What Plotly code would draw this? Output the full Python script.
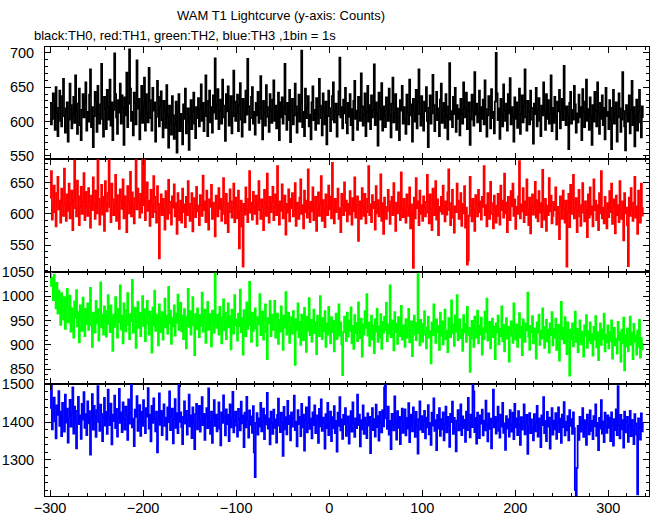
import plotly.graph_objects as go
from plotly.subplots import make_subplots

# Time axis start (s) and 1 s bins
t_start = -300

# TH0 (black) counts per 1 s bin
th0 = [
627, 596, 604, 641, 633, 588, 650, 612, 579, 620, 645, 601, 593, 637, 662, 608, 584, 619, 628, 571,
603, 655, 624, 590, 611, 636, 598, 667, 615, 582, 626, 648, 595, 573, 617, 640, 606, 629, 657, 587,
614, 600, 639, 676, 592, 621, 563, 608, 643, 630, 585, 652, 611, 597, 625, 684, 604, 578, 636, 618,
589, 646, 622, 603, 661, 594, 628, 573, 617, 699, 640, 606, 582, 631, 613, 655, 597, 638, 620, 566,
635, 609, 671, 592, 626, 705, 648, 601, 614, 580, 642, 627, 596, 689, 619, 633, 574, 610, 652, 598,
623, 664, 587, 640, 612, 599, 678, 631, 605, 587, 649, 616, 628, 571, 607, 659, 636, 593, 621, 644,
602, 577, 630, 615, 591, 653, 608, 562, 623, 598, 581, 637, 609, 575, 596, 629, 555, 613, 640, 586,
611, 594, 567, 625, 604, 648, 583, 600, 619, 559, 607, 631, 589, 614, 642, 597, 576, 621, 605, 634,
593, 618, 654, 601, 627, 586, 612, 667, 608, 579, 630, 645, 599, 621, 584, 638, 613, 692, 604, 625,
647, 589, 616, 632, 597, 661, 623, 606, 572, 640, 615, 651, 594, 620, 637, 583, 608, 674, 629, 601,
612, 639, 586, 624, 656, 603, 578, 633, 617, 599, 645, 610, 691, 622, 588, 605, 636, 650, 597, 614,
581, 627, 609, 643, 598, 619, 666, 604, 574, 630, 612, 594, 653, 621, 607, 585, 640, 616, 598, 632,
660, 601, 623, 590, 615, 642, 573, 628, 606, 635, 597, 619, 684, 611, 588, 627, 602, 646, 570, 617,
633, 596, 609, 655, 622, 584, 613, 639, 600, 626, 703, 592, 614, 579, 648, 605, 620, 637, 593, 610,
574, 628, 651, 602, 617, 588, 634, 611, 597, 662, 623, 605, 580, 641, 614, 596, 629, 567, 608, 645,
619, 586, 603, 637, 657, 599, 615, 626, 578, 610, 644, 693, 606, 621, 590, 632, 612, 649, 598, 583,
627, 607, 640, 595, 618, 573, 630, 659, 604, 616, 588, 636, 613, 601, 670, 622, 594, 609, 641, 579,
614, 652, 600, 624, 589, 638, 606, 617, 683, 595, 628, 611, 565, 642, 619, 603, 656, 587, 622, 608,
592, 635, 618, 601, 648, 610, 577, 626, 664, 599, 613, 640, 588, 619, 605, 573, 631, 616, 652, 597,
621, 604, 582, 639, 613, 596, 661, 625, 609, 571, 633, 617, 600, 646, 590, 628, 676, 611, 594, 637,
606, 587, 629, 615, 650, 601, 563, 620, 638, 597, 612, 668, 624, 586, 609, 643, 602, 619, 579, 632,
655, 598, 616, 627, 591, 640, 608, 574, 622, 685, 603, 615, 592, 636, 611, 649, 585, 624, 604, 618,
580, 633, 611, 597, 657, 620, 606, 642, 589, 615, 628, 566, 603, 639, 617, 594, 672, 610, 626, 599,
613, 645, 586, 621, 604, 632, 596, 660, 618, 578, 609, 637, 622, 590, 647, 605, 614, 583, 629, 700,
641, 602, 619, 575, 633, 610, 593, 654, 616, 601, 626, 587, 640, 612, 663, 596, 621, 607, 571, 635,
604, 628, 591, 617, 648, 582, 612, 638, 599, 621, 676, 606, 587, 630, 614, 596, 645, 620, 603, 568,
626, 611, 649, 593, 618, 634, 601, 579, 623, 609, 657, 615, 588, 640, 604, 631, 597, 612, 667, 586,
620, 598, 636, 607, 574, 629, 615, 646, 590, 611, 633, 602, 681, 619, 595, 622, 608, 560, 627, 643,
597, 617, 603, 652, 625, 584, 612, 599, 639, 606, 621, 573, 647, 614, 592, 629, 661, 601, 618, 588,
635, 609, 566, 624, 600, 643, 616, 593, 657, 611, 582, 627, 604, 638, 595, 620, 574, 649, 608, 614,
589, 631, 602, 560, 620, 646, 597, 612, 628, 571, 606, 641, 619, 585, 603, 672, 615, 593, 558, 624,
611, 600, 638, 583, 617, 659, 595, 621, 564, 608, 632, 587, 614, 646, 599, 577, 622, 605,
]

# TH1 (red)
th1 = [
626, 668, 591, 612, 645, 603, 580, 633, 659, 607, 621, 586, 640, 614, 597, 672, 618, 589, 631, 605,
648, 593, 616, 637, 574, 622, 685, 609, 596, 653, 628, 582, 611, 643, 600, 619, 665, 590, 635, 612,
597, 641, 620, 578, 629, 606, 658, 615, 592, 637, 601, 690, 624, 583, 610, 646, 599, 627, 573, 652,
617, 604, 633, 694, 611, 587, 648, 623, 598, 614, 662, 589, 630, 605, 576, 639, 621, 608, 655, 593,
628, 612, 571, 644, 619, 601, 667, 596, 634, 610, 585, 625, 693, 607, 640, 618, 594, 632, 602, 689,
614, 697, 590, 626, 650, 605, 621, 581, 638, 612, 595, 660, 627, 603, 586, 644, 616, 529, 609, 631,
598, 624, 607, 575, 636, 613, 592, 654, 619, 601, 583, 628, 610, 647, 596, 617, 568, 633, 606, 590,
621, 586, 640, 603, 615, 579, 627, 598, 652, 610, 589, 616, 633, 572, 608, 625, 595, 643, 604, 613,
582, 630, 614, 597, 661, 606, 620, 587, 637, 601, 575, 623, 611, 646, 592, 618, 604, 564, 629, 609,
596, 641, 608, 624, 589, 613, 657, 600, 585, 632, 617, 571, 603, 639, 620, 594, 610, 648, 587, 626,
612, 593, 637, 545, 604, 621, 580, 516, 616, 599, 642, 608, 587, 624, 668, 602, 618, 591, 635, 610,
600, 629, 584, 615, 652, 606, 592, 623, 611, 574, 638, 617, 597, 664, 609, 586, 627, 603, 619, 643,
590, 612, 631, 598, 676, 614, 583, 620, 605, 647, 593, 611, 629, 567, 616, 602, 639, 588, 624, 609,
633, 596, 605, 649, 581, 618, 609, 592, 626, 655, 600, 614, 577, 637, 603, 621, 594, 671, 610, 587,
619, 604, 642, 590, 613, 627, 573, 608, 634, 597, 615, 660, 589, 622, 606, 579, 631, 612, 598, 645,
607, 628, 593, 681, 611, 585, 624, 603, 619, 640, 592, 609, 571, 632, 614, 598, 650, 605, 621, 588,
616, 599, 636, 610, 583, 625, 604, 658, 594, 613, 628, 557, 607, 620, 592, 641, 611, 597, 632, 585,
603, 624, 676, 598, 615, 587, 630, 609, 619, 575, 644, 601, 622, 596, 610, 663, 589, 617, 568, 626,
611, 592, 605, 638, 620, 584, 613, 627, 598, 649, 606, 573, 618, 601, 634, 612, 590, 666, 607, 595,
624, 603, 586, 631, 612, 597, 642, 577, 615, 604, 514, 626, 593, 657, 609, 620, 582, 637, 600, 614,
589, 628, 610, 596, 619, 662, 602, 585, 631, 607, 574, 640, 615, 598, 652, 591, 623, 566, 611, 604,
627, 600, 645, 613, 588, 620, 599, 634, 671, 606, 582, 617, 638, 594, 570, 612, 603, 648, 621, 592,
605, 633, 581, 616, 601, 644, 578, 610, 519, 526, 597, 659, 612, 588, 624, 606, 573, 630, 615, 596,
638, 603, 620, 591, 627, 611, 676, 598, 614, 580, 633, 605, 592, 651, 617, 600, 577, 629, 609, 586,
613, 632, 597, 583, 645, 606, 621, 594, 664, 601, 618, 571, 627, 609, 590, 636, 612, 648, 597, 623,
576, 611, 600, 628, 684, 593, 615, 604, 641, 587, 620, 598, 655, 607, 582, 626, 569, 613, 631, 599,
610, 651, 594, 622, 588, 636, 602, 617, 579, 670, 605, 591, 624, 573, 613, 598, 657, 604, 629, 585,
597, 619, 606, 642, 583, 611, 600, 560, 628, 614, 592, 637, 608, 586, 621, 516, 603, 632, 579, 646,
600, 617, 662, 593, 609, 625, 571, 604, 638, 596, 581, 614, 649, 602, 588, 620, 607, 563, 631, 594,
642, 599, 612, 580, 655, 606, 621, 590, 614, 574, 633, 601, 668, 593, 610, 585, 627, 604, 577, 617,
595, 636, 603, 648, 584, 611, 623, 569, 629, 598, 614, 587, 652, 605, 592, 620, 558, 633, 601, 610,
582, 517, 626, 597, 641, 607, 589, 618, 659, 594, 612, 568, 637, 601, 586, 648, 609, 596,
]

# TH2 (green)
th2 = [
1049, 1021, 1038, 992, 1044, 1003, 975, 1027, 964, 1011, 987, 941, 1006, 969, 952, 998, 933, 975, 1015, 946,
960, 1001, 927, 975, 948, 915, 989, 956, 1012, 938, 967, 905, 981, 950, 929, 997, 962, 918, 974, 943,
985, 931, 958, 1017, 940, 896, 966, 951, 925, 990, 944, 973, 909, 958, 1028, 936, 962, 921, 979, 948,
917, 969, 1002, 943, 926, 981, 955, 888, 962, 937, 998, 951, 915, 974, 946, 1022, 932, 960, 903, 985,
954, 928, 971, 1006, 941, 912, 963, 949, 1033, 925, 958, 976, 894, 947, 988, 935, 966, 918, 953, 1000,
939, 973, 908, 957, 990, 944, 921, 968, 953, 884, 977, 940, 1011, 929, 962, 946, 899, 983, 957, 926,
967, 911, 948, 995, 936, 960, 923, 1019, 944, 970, 902, 955, 938, 981, 919, 964, 945, 1003, 931, 952,
986, 928, 960, 912, 973, 947, 893, 958, 1015, 937, 969, 921, 952, 998, 940, 879, 963, 932, 975, 949,
916, 961, 939, 1007, 927, 955, 972, 904, 946, 988, 931, 963, 942, 897, 970, 953, 925, 1046, 948, 935,
962, 921, 978, 944, 903, 957, 993, 930, 966, 912, 949, 985, 936, 959, 891, 972, 947, 923, 1002, 940,
952, 909, 964, 938, 1013, 926, 955, 880, 971, 945, 918, 987, 933, 958, 1029, 940, 906, 966, 929, 950,
975, 934, 898, 957, 942, 1004, 920, 949, 968, 911, 937, 983, 926, 871, 955, 944, 990, 918, 962, 931,
946, 990, 915, 938, 964, 902, 951, 927, 979, 943, 890, 960, 935, 1008, 921, 948, 966, 904, 939, 957,
923, 969, 942, 859, 953, 931, 985, 916, 947, 900, 962, 936, 910, 976, 942, 886, 958, 929, 996, 920,
951, 907, 939, 972, 924, 946, 881, 960, 933, 918, 1000, 941, 912, 955, 928, 969, 896, 944, 921, 978,
935, 903, 957, 926, 949, 887, 940, 964, 912, 931, 983, 919, 946, 901, 838, 926, 958, 937, 908, 966,
917, 950, 929, 977, 903, 939, 892, 961, 924, 945, 908, 987, 930, 914, 954, 876, 942, 921, 969, 935,
1004, 919, 946, 898, 933, 960, 911, 940, 883, 952, 927, 974, 906, 938, 915, 963, 892, 947, 925, 958,
931, 986, 908, 942, 923, 1022, 916, 950, 935, 889, 967, 926, 944, 902, 957, 934, 918, 980, 911, 940,
927, 896, 953, 915, 938, 974, 905, 930, 948, 877, 921, 960, 937, 910, 945, 1045, 924, 899, 951, 932,
907, 943, 969, 921, 893, 936, 958, 915, 928, 862, 946, 920, 983, 931, 904, 952, 926, 939, 890, 966,
919, 948, 901, 934, 972, 912, 929, 885, 955, 938, 916, 991, 924, 942, 898, 960, 927, 1002, 910, 936,
952, 914, 932, 888, 961, 925, 943, 906, 978, 920, 935, 845, 913, 949, 927, 896, 958, 931, 915, 970,
903, 940, 921, 956, 880, 934, 912, 968, 927, 995, 909, 930, 947, 893, 922, 954, 916, 938, 871, 944,
925, 960, 901, 933, 918, 979, 908, 941, 887, 926, 955, 913, 937, 866, 929, 948, 919, 904, 985, 931,
911, 942, 896, 928, 965, 915, 937, 879, 952, 923, 906, 944, 930, 1007, 917, 890, 939, 926, 959, 903,
934, 918, 872, 946, 925, 962, 900, 929, 913, 975, 937, 894, 920, 951, 907, 931, 884, 944, 920, 967,
899, 933, 915, 954, 890, 927, 941, 868, 920, 988, 912, 935, 903, 957, 926, 881, 946, 917, 837, 931,
912, 944, 897, 925, 968, 906, 933, 885, 921, 950, 901, 927, 913, 876, 940, 919, 961, 894, 928, 909,
946, 903, 922, 878, 937, 911, 959, 895, 926, 869, 917, 944, 900, 932, 912, 964, 887, 921, 905, 940,
893, 926, 908, 950, 872, 918, 935, 899, 913, 882, 947, 910, 925, 866, 931, 903, 956, 848, 920, 897,
934, 887, 912, 958, 900, 925, 871, 943, 907, 919, 880, 929, 896, 951, 874, 914, 902, 889,
]

# TH3 (blue)
th3 = [
1438, 1496, 1381, 1423, 1465, 1402, 1357, 1444, 1419, 1482, 1390, 1428, 1363, 1451, 1410, 1375, 1473, 1399, 1436, 1346,
1412, 1459, 1388, 1425, 1492, 1370, 1441, 1404, 1331, 1430, 1467, 1395, 1418, 1356, 1448, 1407, 1479, 1385, 1421, 1366,
1455, 1397, 1429, 1314, 1408, 1474, 1380, 1443, 1416, 1361, 1432, 1495, 1401, 1377, 1446, 1422, 1350, 1415, 1464, 1391,
1427, 1369, 1486, 1413, 1392, 1449, 1341, 1420, 1403, 1470, 1384, 1435, 1362, 1411, 1488, 1398, 1426, 1374, 1452, 1407,
1380, 1441, 1418, 1353, 1460, 1396, 1424, 1499, 1386, 1409, 1337, 1433, 1414, 1469, 1377, 1402, 1445, 1364, 1427, 1390,
1458, 1404, 1371, 1437, 1415, 1490, 1383, 1420, 1349, 1443, 1398, 1463, 1410, 1376, 1428, 1320, 1405, 1476, 1393, 1430,
1366, 1421, 1447, 1390, 1412, 1354, 1439, 1400, 1481, 1379, 1417, 1436, 1344, 1408, 1461, 1385, 1424, 1371, 1499, 1401,
1426, 1387, 1342, 1414, 1455, 1396, 1430, 1367, 1405, 1473, 1389, 1418, 1358, 1439, 1399, 1329, 1421, 1448, 1381, 1410,
1443, 1375, 1404, 1466, 1392, 1422, 1353, 1416, 1437, 1384, 1489, 1401, 1369, 1428, 1345, 1412, 1458, 1390, 1420, 1376,
1407, 1452, 1383, 1339, 1426, 1398, 1471, 1412, 1365, 1434, 1395, 1419, 1350, 1447, 1386, 1410, 1480, 1373, 1403, 1428,
1391, 1362, 1435, 1408, 1378, 1454, 1397, 1418, 1334, 1425, 1386, 1467, 1404, 1359, 1431, 1393, 1415, 1372, 1442, 1320,
1255, 1398, 1424, 1367, 1410, 1388, 1451, 1376, 1402, 1436, 1355, 1418, 1394, 1477, 1383, 1409, 1341, 1428, 1396, 1369,
1433, 1385, 1407, 1346, 1419, 1462, 1391, 1374, 1425, 1400, 1311, 1440, 1381, 1413, 1368, 1456, 1395, 1417, 1352, 1426,
1388, 1411, 1470, 1379, 1401, 1336, 1432, 1395, 1414, 1363, 1448, 1386, 1420, 1325, 1405, 1439, 1373, 1398, 1466, 1382,
1409, 1357, 1426, 1392, 1444, 1371, 1403, 1418, 1345, 1435, 1389, 1460, 1377, 1412, 1398, 1330, 1421, 1384, 1451, 1366,
1397, 1428, 1350, 1413, 1384, 1442, 1371, 1403, 1322, 1425, 1390, 1466, 1378, 1407, 1356, 1419, 1394, 1437, 1364, 1400,
1415, 1343, 1388, 1429, 1375, 1452, 1396, 1361, 1410, 1384, 1473, 1392, 1420, 1336, 1405, 1381, 1444, 1369, 1412, 1395,
1358, 1423, 1391, 1414, 1318, 1400, 1437, 1379, 1408, 1362, 1446, 1387, 1416, 1351, 1427, 1398, 1373, 1432, 1389, 1492,
1497, 1410, 1382, 1441, 1367, 1403, 1329, 1422, 1393, 1378, 1468, 1401, 1354, 1429, 1385, 1414, 1342, 1407, 1436, 1372,
1399, 1434, 1365, 1411, 1383, 1450, 1347, 1420, 1392, 1376, 1439, 1404, 1361, 1427, 1388, 1317, 1408, 1455, 1380, 1416,
1374, 1402, 1430, 1357, 1412, 1386, 1445, 1368, 1398, 1340, 1425, 1391, 1463, 1377, 1405, 1326, 1419, 1383, 1437, 1364,
1408, 1381, 1426, 1352, 1395, 1441, 1373, 1414, 1390, 1335, 1422, 1400, 1454, 1369, 1411, 1385, 1323, 1404, 1432, 1378,
1393, 1447, 1366, 1415, 1384, 1406, 1348, 1428, 1379, 1464, 1397, 1360, 1420, 1387, 1500, 1481, 1374, 1411, 1343, 1425,
1389, 1358, 1418, 1396, 1433, 1365, 1404, 1378, 1457, 1392, 1349, 1423, 1382, 1409, 1331, 1401, 1486, 1386, 1414, 1370,
1405, 1441, 1377, 1359, 1420, 1388, 1451, 1372, 1397, 1327, 1416, 1383, 1408, 1362, 1432, 1394, 1375, 1425, 1355, 1448,
1386, 1410, 1366, 1429, 1393, 1340, 1413, 1380, 1402, 1447, 1368, 1398, 1419, 1316, 1389, 1424, 1371, 1407, 1385, 1352,
1421, 1376, 1399, 1443, 1362, 1410, 1385, 1334, 1418, 1392, 1466, 1371, 1403, 1350, 1427, 1388, 1412, 1330, 1396, 1437,
1367, 1404, 1381, 1424, 1356, 1398, 1439, 1374, 1409, 1345, 1420, 1387, 1453, 1365, 1401, 1378, 1416, 1352, 1432, 1390,
1408, 1369, 1426, 1384, 1221, 1206, 1279, 1390, 1353, 1414, 1375, 1398, 1437, 1361, 1405, 1382, 1340, 1420, 1394, 1368,
1431, 1377, 1403, 1355, 1416, 1389, 1447, 1364, 1398, 1326, 1411, 1383, 1458, 1370, 1402, 1347, 1425, 1391, 1372, 1418,
1385, 1412, 1350, 1426, 1397, 1338, 1408, 1379, 1434, 1366, 1495, 1393, 1357, 1419, 1381, 1405, 1333, 1428, 1373, 1401,
1414, 1348, 1392, 1430, 1363, 1406, 1380, 1342, 1421, 1397, 1367, 1209, 1410, 1385, 1354, 1423, 1376, 1399,
]

series_names = ["TH0", "TH1", "TH2", "TH3"]
series_colors = ["#000000", "#ff0000", "#00ff00", "#0000ff"]
series_values = [th0, th1, th2, th3]

# y ranges / tick spacing per panel
y_ranges = [[545.2, 708.4], [508.2, 687.0], [820.4, 1050.4], [1204.8, 1501.5]]
y_dticks = [50, 50, 50, 100]
y_minor = [10, 10, 10, 20]

fig = make_subplots(rows=4, cols=1, shared_xaxes=True, vertical_spacing=0)

for i, (name, col, vals) in enumerate(zip(series_names, series_colors, series_values), start=1):
    xs = list(range(t_start, t_start + len(vals)))
    fig.add_trace(go.Scatter(x=xs, y=vals, mode="lines", name=name,
                             line=dict(color=col, width=1.8, shape="hv"),
                             showlegend=False, hoverinfo="skip"), row=i, col=1)

font_fam = "Liberation Sans, Arial, Helvetica, sans-serif"
axis_common = dict(showline=True, linecolor="black", linewidth=1, mirror="allticks",
                   ticks="inside", tickcolor="black", tickwidth=1, ticklen=6,
                   showgrid=False, zeroline=False, automargin=False,
                   tickfont=dict(family=font_fam, size=14.5, color="black"))

for i in range(1, 5):
    fig.update_xaxes(range=[-305.4, 343.7], dtick=100, tick0=0,
                     minor=dict(dtick=20, ticks="inside", ticklen=3, tickcolor="black", showgrid=False),
                     ticklabelstandoff=-1,
                     row=i, col=1, **axis_common)
    fig.update_yaxes(range=y_ranges[i - 1], dtick=y_dticks[i - 1], tick0=0,
                     minor=dict(dtick=y_minor[i - 1], ticks="inside", ticklen=3, tickcolor="black", showgrid=False),
                     ticklabelstandoff=7,
                     row=i, col=1, **axis_common)

fig.update_layout(
    width=652, height=515,
    margin=dict(l=45, r=3, t=47, b=19),
    paper_bgcolor="white", plot_bgcolor="white",
    font=dict(family=font_fam, color="black"),
    annotations=[
        dict(text="WAM T1 Lightcurve (y-axis: Counts)", xref="paper", yref="paper",
             x=(280.5 - 45) / 604, y=(496 - 16) / 449, xanchor="center", yanchor="middle",
             showarrow=False, font=dict(size=13, family=font_fam, color="black")),
        dict(text="black:TH0, red:TH1, green:TH2, blue:TH3 ,1bin = 1s", xref="paper", yref="paper",
             x=(32 - 45) / 604, y=(496 - 35.5) / 449, xanchor="left", yanchor="middle",
             showarrow=False, font=dict(size=13, family=font_fam, color="black")),
    ],
)

fig.write_html("out.html", config={"displayModeBar": False},
               post_script="document.body.style.margin='0';document.body.style.overflow='hidden';")
